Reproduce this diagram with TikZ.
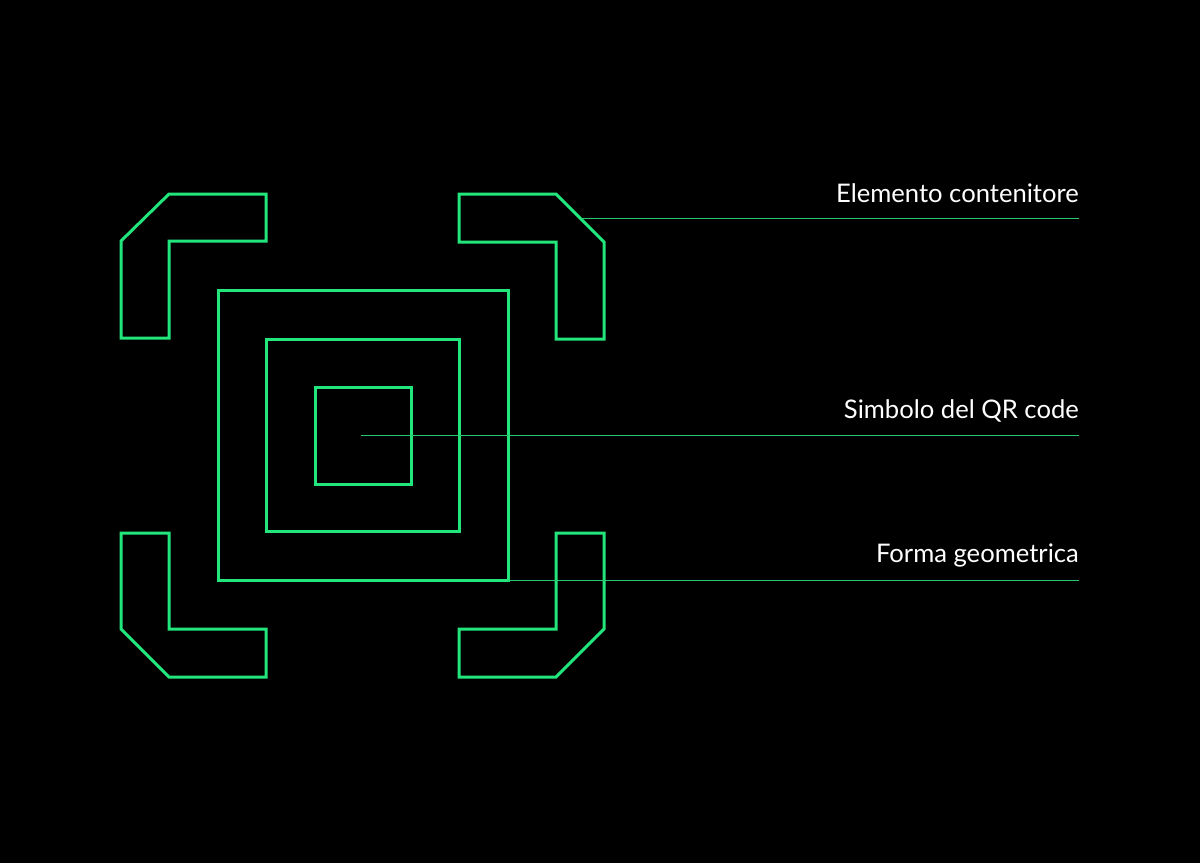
\documentclass[tikz,border=0pt]{standalone}
\usepackage{fontspec}
\setmainfont{Lato}
\definecolor{neon}{HTML}{22E67C}
\definecolor{leader}{HTML}{28C870}
\begin{document}
\begin{tikzpicture}[x=1pt,y=-1pt,
  outl/.style={draw=neon,line width=3pt,line join=miter},
  leaderline/.style={draw=leader,line width=1pt},
  lbl/.style={text=white,font=\fontsize{25.6}{30}\selectfont,anchor=base east,inner sep=0pt}]
\fill[black] (0,0) rectangle (1200,863);
\useasboundingbox (0,0) rectangle (1200,863);
% corner brackets
\draw[outl] (121,241) -- (169,194) -- (266,194) -- (266,241) -- (169,241) -- (169,338) -- (121,338) -- cycle;
\draw[outl] (459,194) -- (556,194) -- (604,242) -- (604,339) -- (556,339) -- (556,242) -- (459,242) -- cycle;
\draw[outl] (121,533) -- (169,533) -- (169,629) -- (266,629) -- (266,677) -- (169,677) -- (121,629) -- cycle;
\draw[outl] (556,533) -- (604,533) -- (604,629) -- (556,677) -- (459,677) -- (459,629) -- (556,629) -- cycle;
% squares
\draw[outl] (218,290) rectangle (508,580);
\draw[outl] (266,339) rectangle (459,531);
\draw[outl] (315,387) rectangle (411,484);
% leader anchors
\coordinate (c1) at (581,218);
\coordinate (c2) at (361,435);
\coordinate (c3) at (508,580);
\coordinate (e1) at (1079,218);
\coordinate (e2) at (1079,435);
\coordinate (e3) at (1079,580);
\draw[leaderline] (c1) -- (e1);
\draw[leaderline] (c2) -- (e2);
\draw[leaderline] (c3) -- (e3);
% labels
\node[lbl] (l1) at (1079,202) {Elemento contenitore};
\node[lbl] (l2) at (1079,418) {Simbolo del QR code};
\node[lbl] (l3) at (1079,562) {Forma geometrica};
\end{tikzpicture}
\end{document}
